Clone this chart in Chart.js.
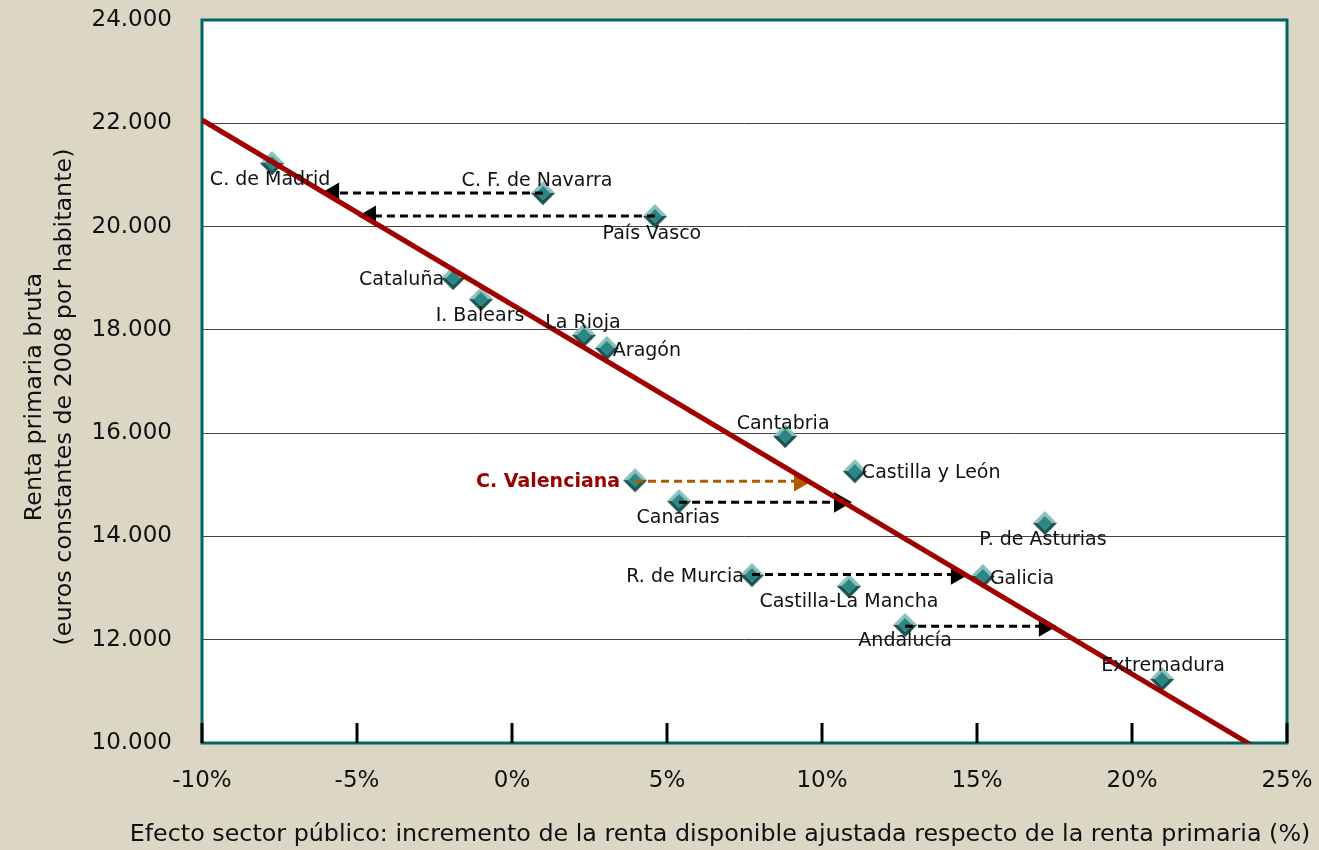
<!DOCTYPE html>
<html>
<head>
<meta charset="utf-8">
<script src="https://cdn.jsdelivr.net/npm/chart.js@4.4.1/dist/chart.umd.min.js"></script>
<style>
  html, body { margin: 0; padding: 0; background: #dcd6c4; }
  #wrap { width: 1319px; height: 850px; }
</style>
</head>
<body>
<div id="wrap"><canvas id="rentaChart"></canvas></div>
<script>
// regions and values
const regions = ["C. de Madrid", "C. F. de Navarra", "País Vasco", "Cataluña", "I. Balears",
  "La Rioja", "Aragón", "Cantabria", "Castilla y León", "C. Valenciana", "Canarias",
  "P. de Asturias", "R. de Murcia", "Galicia", "Castilla-La Mancha", "Andalucía", "Extremadura"];
const efectoPct = [-7.74, 1.0, 4.61, -1.9, -1.0, 2.32, 3.06, 8.81, 11.06, 3.97, 5.39,
  17.19, 7.74, 15.19, 10.87, 12.68, 20.97];
const rentaPrimaria = [21230, 20650, 20205, 19005, 18595, 17900, 17650, 15945, 15265, 15090, 14685,
  14260, 13255, 13235, 13040, 12285, 11240];

// dashed arrows towards the trend line
const arrowFrom = [1.0, 4.61, 3.97, 5.39, 7.74, 12.68];
const arrowTo = [-5.77, -4.58, 9.29, 10.58, 14.35, 17.19];
const arrowY = [20650, 20205, 15070, 14660, 13265, 12260];
const arrowHighlight = [false, false, true, false, false, false];

// trend line
const trendX = [-10, 25];
const trendY = [22064, 9548];

const xTicks = [-10, -5, 0, 5, 10, 15, 20, 25];
const yTicks = [10000, 12000, 14000, 16000, 18000, 20000, 22000, 24000];

const xTitle = "Efecto sector público: incremento de la renta disponible ajustada respecto de la renta primaria (%)";
const yTitle = ["Renta primaria bruta", "(euros constantes de 2008 por habitante)"];

const FONT = "DejaVu Sans";
const TEAL_BORDER = "#006663";

// label placement: [dx, dy, align]
const labelPos = {
  "C. de Madrid": [-2, 17, "center"],
  "C. F. de Navarra": [-6, -12, "center"],
  "País Vasco": [-3, 18, "center"],
  "Cataluña": [-9, 2, "right"],
  "I. Balears": [-1, 17, "center"],
  "La Rioja": [-1, -12, "center"],
  "Aragón": [6, 3, "left"],
  "Cantabria": [-2, -12, "center"],
  "Castilla y León": [7, 2, "left"],
  "C. Valenciana": [-15, 2, "right"],
  "Canarias": [-1, 17, "center"],
  "P. de Asturias": [-2, 17, "center"],
  "R. de Murcia": [-8, 2, "right"],
  "Galicia": [7, 3, "left"],
  "Castilla-La Mancha": [0, 16, "center"],
  "Andalucía": [0, 16, "center"],
  "Extremadura": [1, -13, "center"]
};

// beveled diamond marker
function makeDiamond() {
  const s = 26, c = s / 2, r = 12, ri = 7;
  const cv = document.createElement("canvas");
  cv.width = s; cv.height = s;
  const g = cv.getContext("2d");
  g.fillStyle = "#8cc0bd";
  g.beginPath(); g.moveTo(c, c - r); g.lineTo(c + r, c); g.lineTo(c, c + r); g.lineTo(c - r, c); g.closePath(); g.fill();
  g.fillStyle = "#1e5553";
  g.beginPath(); g.moveTo(c + r, c); g.lineTo(c, c + r); g.lineTo(c - r, c); g.lineTo(c - ri, c); g.lineTo(c, c + ri); g.lineTo(c + ri, c); g.closePath(); g.fill();
  g.fillStyle = "#2c8784";
  g.beginPath(); g.moveTo(c, c - ri); g.lineTo(c + ri, c); g.lineTo(c, c + ri); g.lineTo(c - ri, c); g.closePath(); g.fill();
  return cv;
}
const diamond = makeDiamond();

const plotFrame = {
  id: "plotFrame",
  beforeDraw(chart) {
    const { ctx, chartArea: a } = chart;
    ctx.save();
    ctx.fillStyle = "#ffffff";
    ctx.fillRect(a.left, a.top, a.right - a.left, a.bottom - a.top);
    ctx.restore();
  },
  beforeDatasetsDraw(chart) {
    const { ctx, chartArea: a, scales } = chart;
    ctx.save();
    ctx.strokeStyle = TEAL_BORDER;
    ctx.lineWidth = 3;
    ctx.strokeRect(a.left, a.top, a.right - a.left, a.bottom - a.top);
    ctx.strokeStyle = "#000";
    ctx.lineWidth = 3;
    scales.x.ticks.forEach(t => {
      const px = scales.x.getPixelForValue(t.value);
      ctx.beginPath();
      ctx.moveTo(px, a.bottom);
      ctx.lineTo(px, a.bottom - 20);
      ctx.stroke();
    });
    ctx.restore();
  },
  afterDraw(chart) {
    const ctx = chart.ctx;
    ctx.save();
    ctx.fillStyle = "#111";
    ctx.font = "23.8px '" + FONT + "'";
    ctx.textAlign = "center";
    ctx.textBaseline = "middle";
    ctx.fillText(xTitle, 720, 835);
    ctx.translate(0, 397);
    ctx.rotate(-Math.PI / 2);
    ctx.fillText(yTitle[0], 0, 35);
    ctx.fillText(yTitle[1], 0, 65);
    ctx.restore();
  }
};

const pointLabels = {
  id: "pointLabels",
  afterDatasetsDraw(chart) {
    const idx = chart.data.datasets.findIndex(d => d.label === "regiones");
    const meta = chart.getDatasetMeta(idx);
    const ctx = chart.ctx;
    ctx.save();
    ctx.textBaseline = "middle";
    regions.forEach((name, i) => {
      const el = meta.data[i];
      const p = labelPos[name];
      const hi = name === "C. Valenciana";
      ctx.font = (hi ? "bold " : "") + "19px '" + FONT + "'";
      ctx.fillStyle = hi ? "#990000" : "#111111";
      ctx.textAlign = p[2];
      ctx.fillText(name, el.x + p[0], el.y + p[1]);
    });
    ctx.restore();
  }
};

const arrowSets = arrowFrom.map((x0, i) => {
  const col = arrowHighlight[i] ? "#b05a00" : "#000000";
  const left = arrowTo[i] < x0;
  return {
    label: "flecha" + i,
    type: "line",
    data: [{ x: x0, y: arrowY[i] }, { x: arrowTo[i], y: arrowY[i] }],
    borderColor: col,
    borderWidth: 3,
    borderDash: [8, 5],
    pointRadius: [0, 12],
    pointStyle: "triangle",
    pointRotation: left ? 270 : 90,
    pointBackgroundColor: col,
    pointBorderColor: col,
    pointBorderWidth: 0
  };
});

new Chart(document.getElementById("rentaChart"), {
  type: "scatter",
  data: {
    datasets: [
      {
        label: "tendencia",
        type: "line",
        data: trendX.map((x, i) => ({ x: x, y: trendY[i] })),
        borderColor: "#a00000",
        borderWidth: 5,
        pointRadius: 0
      },
      ...arrowSets,
      {
        label: "regiones",
        data: efectoPct.map((x, i) => ({ x: x, y: rentaPrimaria[i] })),
        pointStyle: diamond,
        pointRadius: 13
      }
    ]
  },
  options: {
    responsive: true,
    maintainAspectRatio: false,
    animation: false,
    layout: { padding: { top: 20, right: 32, left: 0, bottom: 0 } },
    plugins: {
      legend: { display: false },
      tooltip: { enabled: false }
    },
    scales: {
      x: {
        type: "linear",
        min: -10,
        max: 25,
        afterBuildTicks: s => { s.ticks = xTicks.map(v => ({ value: v })); },
        ticks: {
          callback: v => v + "%",
          color: "#111",
          font: { family: FONT, size: 23 },
          padding: 24,
          maxRotation: 0
        },
        grid: { display: false, drawTicks: false, tickLength: 0 },
        border: { display: false },
        afterFit: s => { s.height = 107; s.paddingLeft = 0; s.paddingRight = 0; }
      },
      y: {
        min: 10000,
        max: 24000,
        afterBuildTicks: s => { s.ticks = yTicks.map(v => ({ value: v })); },
        ticks: {
          callback: v => String(v).replace(/(\d)(\d{3})$/, "$1.$2"),
          color: "#111",
          font: { family: FONT, size: 23 },
          padding: 30
        },
        grid: { color: "#444444", lineWidth: 1, drawTicks: false, tickLength: 0 },
        border: { display: false },
        afterFit: s => { s.width = 202; s.paddingTop = 0; s.paddingBottom = 0; }
      }
    }
  },
  plugins: [plotFrame, pointLabels]
});
</script>
</body>
</html>
